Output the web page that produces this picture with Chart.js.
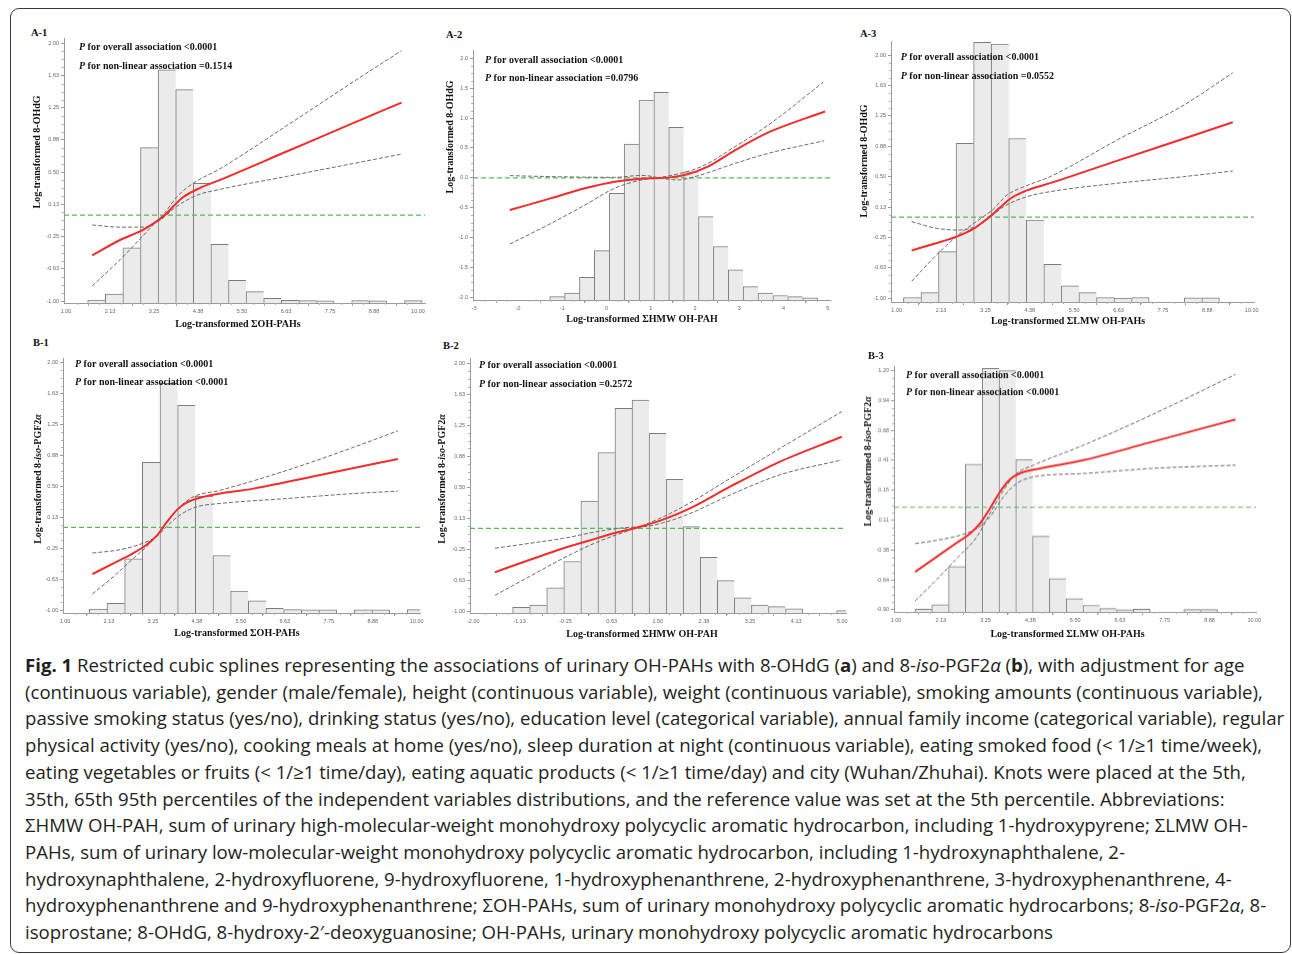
<!DOCTYPE html>
<html>
<head>
<meta charset="utf-8">
<title>Fig. 1 restricted cubic splines</title>
<script src="https://cdn.jsdelivr.net/npm/chart.js@4.4.1/dist/chart.umd.min.js"></script>
<style>
  html, body { margin: 0; padding: 0; background: #fff; }
  body { position: relative; width: 1292px; height: 954px; overflow: hidden; }
  #frame { position: absolute; left: 10px; top: 8px; width: 1281px; height: 945px; box-sizing: border-box;
           border: 1.4px solid #3a3a3a; border-radius: 9px; }
  canvas { position: absolute; }
  .tag { position: absolute; font: bold 10.5px "Liberation Serif", serif; color: #111; line-height: 12px; }
  #caption { position: absolute; left: 25px; top: 652px; font-family: "Open Sans", sans-serif; font-size: 18.6px;
             line-height: 26.7px; color: #231f20; white-space: nowrap; }
</style>
</head>
<body>
<div id="frame"></div>
<div id="caption">
<b>Fig. 1</b> Restricted cubic splines representing the associations of urinary OH-PAHs with 8-OHdG (<b>a</b>) and 8-<i>iso</i>-PGF2<i>α</i> (<b>b</b>), with adjustment for age<br>
(continuous variable), gender (male/female), height (continuous variable), weight (continuous variable), smoking amounts (continuous variable),<br>
passive smoking status (yes/no), drinking status (yes/no), education level (categorical variable), annual family income (categorical variable), regular<br>
physical activity (yes/no), cooking meals at home (yes/no), sleep duration at night (continuous variable), eating smoked food (&lt; 1/≥1 time/week),<br>
eating vegetables or fruits (&lt; 1/≥1 time/day), eating aquatic products (&lt; 1/≥1 time/day) and city (Wuhan/Zhuhai). Knots were placed at the 5th,<br>
35th, 65th 95th percentiles of the independent variables distributions, and the reference value was set at the 5th percentile. Abbreviations:<br>
ΣHMW OH-PAH, sum of urinary high-molecular-weight monohydroxy polycyclic aromatic hydrocarbon, including 1-hydroxypyrene; ΣLMW OH-<br>
PAHs, sum of urinary low-molecular-weight monohydroxy polycyclic aromatic hydrocarbon, including 1-hydroxynaphthalene, 2-<br>
hydroxynaphthalene, 2-hydroxyfluorene, 9-hydroxyfluorene, 1-hydroxyphenanthrene, 2-hydroxyphenanthrene, 3-hydroxyphenanthrene, 4-<br>
hydroxyphenanthrene and 9-hydroxyphenanthrene; ΣOH-PAHs, sum of urinary monohydroxy polycyclic aromatic hydrocarbons; 8-<i>iso</i>-PGF2<i>α</i>, 8-<br>
isoprostane; 8-OHdG, 8-hydroxy-2′-deoxyguanosine; OH-PAHs, urinary monohydroxy polycyclic aromatic hydrocarbons
</div>
<script>
// ---- axis ticks (values and the labels printed in the figure) ----
const sumTicks = [1, 2.125, 3.25, 4.375, 5.5, 6.625, 7.75, 8.875, 10];
const sumTickLabels = ['1.00', '2.13', '3.25', '4.38', '5.50', '6.63', '7.75', '8.88', '10.00'];
const hmwTicksA = [-3, -2, -1, 0, 1, 2, 3, 4, 5];
const hmwTickLabelsA = ['-3', '-2', '-1', '0', '1', '2', '3', '4', '5'];
const hmwTicksB = [-2, -1.125, -0.25, 0.625, 1.5, 2.375, 3.25, 4.125, 5];
const hmwTickLabelsB = ['-2.00', '-1.13', '-0.25', '0.63', '1.50', '2.38', '3.25', '4.13', '5.00'];
const respTicks = [-1, -0.625, -0.25, 0.125, 0.5, 0.875, 1.25, 1.625, 2];
const respTickLabels = ['-1.00', '-0.63', '-0.25', '0.13', '0.50', '0.88', '1.25', '1.63', '2.00'];
const a2YTicks = [-2, -1.5, -1, -0.5, 0, 0.5, 1, 1.5, 2];
const a2YTickLabels = ['-2.0', '-1.5', '-1.0', '-0.5', '0.0', '0.5', '1.0', '1.5', '2.0'];
const b3YTicks = [-0.9, -0.6375, -0.375, -0.1125, 0.15, 0.4125, 0.675, 0.9375, 1.2];
const b3YTickLabels = ['-0.90', '-0.64', '-0.38', '0.11', '0.15', '0.41', '0.68', '0.94', '1.20'];

// reference line of every panel
const refY = 0;

// ---- A-1: ΣOH-PAHs vs 8-OHdG ----
const a1BinX = [1.78, 2.23, 2.68, 3.13, 3.58, 4.03, 4.48, 4.93, 5.38, 5.83, 6.28, 6.73, 7.18, 7.63, 8.08, 8.53, 8.98, 9.43, 9.88];
const a1BinTop = [-0.99, -0.92, -0.38, 0.785, 1.69, 1.46, 0.37, -0.34, -0.76, -0.89, -0.97, -0.993, -0.996, -0.998, null, -0.996, -0.997, null, -0.996];
const a1Fit = [[1.67, -0.47], [2.38, -0.29], [2.98, -0.17], [3.23, -0.10], [3.53, 0.00], [3.74, 0.10], [4.00, 0.21], [4.42, 0.315], [4.94, 0.41], [6.64, 0.74], [8.34, 1.07], [9.58, 1.31]];
const a1CiHi = [[1.67, -0.825], [2.38, -0.52], [3.23, -0.115], [3.53, 0.03], [3.83, 0.21], [4.25, 0.37], [4.94, 0.54], [6.64, 1.04], [8.34, 1.55], [9.58, 1.915]];
const a1CiLo = [[1.67, -0.115], [2.38, -0.14], [2.98, -0.14], [3.40, -0.06], [3.57, 0.00], [3.83, 0.10], [4.34, 0.23], [4.94, 0.30], [6.64, 0.45], [8.34, 0.60], [9.58, 0.71]];

// ---- A-2: ΣHMW OH-PAH vs 8-OHdG ----
const a2BinX = [-1.119, -0.783, -0.446, -0.110, 0.227, 0.564, 0.900, 1.237, 1.573, 1.910, 2.246, 2.583, 2.919, 3.256, 3.592, 3.929, 4.265, 4.602];
const a2BinTop = [-1.99, -1.93, -1.665, -1.22, -0.26, 0.566, 1.30, 1.43, 0.845, 0.10, -0.65, -1.15, -1.54, -1.82, -1.93, -1.97, -1.99, -2.01];
const a2Fit = [[-2.19, -0.54], [-1.25, -0.34], [-0.49, -0.175], [0.18, -0.065], [0.79, -0.014], [1.39, 0.003], [1.85, 0.065], [2.30, 0.19], [2.90, 0.46], [3.66, 0.76], [4.94, 1.11]];
const a2CiHi = [[-2.19, -1.11], [-1.25, -0.76], [-0.49, -0.455], [0.18, -0.175], [0.79, -0.036], [1.39, 0.03], [2.15, 0.19], [2.90, 0.52], [3.66, 0.885], [4.90, 1.60]];
const a2CiLo = [[-2.19, 0.036], [-1.25, 0.02], [0.18, 0.008], [0.79, 0.04], [1.39, -0.025], [1.62, -0.036], [2.0, 0.02], [2.90, 0.24], [3.66, 0.41], [4.92, 0.62]];

// ---- A-3: ΣLMW OH-PAHs vs 8-OHdG ----
const a3BinX = [1.393, 1.838, 2.283, 2.728, 3.173, 3.618, 4.063, 4.508, 4.953, 5.398, 5.843, 6.288, 6.733, 7.178, 7.623, 8.068, 8.513, 8.958, 9.403];
const a3BinTop = [-0.99, -0.93, -0.425, 0.91, 2.156, 2.136, 0.97, -0.035, -0.58, -0.845, -0.93, -0.99, -0.997, -0.99, null, null, -0.995, -0.995, null];
const a3Fit = [[1.38, -0.41], [1.93, -0.33], [2.52, -0.24], [2.94, -0.145], [3.20, -0.055], [3.41, 0.027], [3.62, 0.12], [3.87, 0.225], [4.30, 0.33], [4.89, 0.42], [6.58, 0.695], [8.27, 0.968], [9.52, 1.17]];
const a3CiHi = [[1.38, -0.79], [2.01, -0.465], [2.61, -0.20], [3.20, 0.007], [3.45, 0.10], [3.79, 0.27], [4.30, 0.39], [4.89, 0.50], [6.58, 0.95], [8.27, 1.38], [9.52, 1.78]];
const a3CiLo = [[1.38, -0.055], [2.01, -0.137], [2.61, -0.158], [3.03, -0.108], [3.37, 0.0], [3.71, 0.13], [4.30, 0.253], [4.89, 0.315], [6.58, 0.418], [8.27, 0.50], [9.52, 0.57]];

// ---- B-1: ΣOH-PAHs vs 8-iso-PGF2α ----
const b1BinX = [1.849, 2.301, 2.753, 3.205, 3.657, 4.109, 4.561, 5.013, 5.465, 5.917, 6.369, 6.821, 7.273, 7.725, 8.177, 8.629, 9.081, 9.533, 9.985];
const b1BinTop = [-0.99, -0.92, -0.38, 0.79, 1.745, 1.48, 0.38, -0.34, -0.77, -0.89, -0.98, -0.995, -0.997, -0.998, null, -0.997, -0.997, null, -0.995];
const b1Fit = [[1.70, -0.565], [2.24, -0.435], [2.75, -0.31], [3.09, -0.21], [3.35, -0.10], [3.60, 0.06], [3.86, 0.21], [4.11, 0.30], [4.54, 0.37], [5.82, 0.47], [7.53, 0.635], [9.52, 0.83]];
const b1CiHi = [[1.70, -0.806], [2.24, -0.596], [2.75, -0.374], [3.18, -0.19], [3.60, 0.06], [3.94, 0.25], [4.28, 0.37], [4.97, 0.45], [6.67, 0.69], [8.38, 0.97], [9.52, 1.17]];
const b1CiLo = [[1.70, -0.31], [2.41, -0.27], [3.0, -0.19], [3.35, -0.11], [3.60, 0.01], [3.94, 0.15], [4.37, 0.25], [4.97, 0.29], [6.67, 0.35], [8.38, 0.41], [9.52, 0.44]];

// ---- B-2: ΣHMW OH-PAH vs 8-iso-PGF2α ----
const b2BinX = [-1.092, -0.769, -0.445, -0.122, 0.202, 0.526, 0.849, 1.173, 1.496, 1.820, 2.143, 2.467, 2.791, 3.114, 3.438, 3.761, 4.085, 4.408, 4.732, 5.055];
const b2BinTop = [-0.955, -0.927, -0.72, -0.40, 0.33, 0.92, 1.455, 1.556, 1.152, 0.595, 0.022, -0.35, -0.632, -0.84, -0.927, -0.947, -0.975, null, null, -0.995];
const b2Fit = [[-1.59, -0.53], [-0.925, -0.38], [-0.29, -0.24], [0.34, -0.12], [0.72, -0.05], [1.16, 0.02], [1.61, 0.11], [2.11, 0.244], [2.87, 0.506], [3.82, 0.81], [4.99, 1.11]];
const b2CiHi = [[-1.59, -0.81], [-0.925, -0.58], [-0.29, -0.36], [0.34, -0.168], [0.97, -0.02], [1.23, 0.04], [1.61, 0.143], [2.11, 0.31], [2.87, 0.605], [3.82, 0.97], [4.99, 1.415]];
const b2CiLo = [[-1.59, -0.24], [-0.925, -0.18], [-0.29, -0.12], [0.34, -0.04], [0.97, 0.014], [1.23, 0.02], [1.61, 0.07], [2.11, 0.18], [2.87, 0.405], [3.82, 0.65], [4.99, 0.83]];

// ---- B-3: ΣLMW OH-PAHs vs 8-iso-PGF2α ----
const b3BinX = [1.688, 2.110, 2.532, 2.954, 3.376, 3.798, 4.220, 4.642, 5.064, 5.486, 5.908, 6.330, 6.752, 7.174, 7.596, 8.018, 8.440, 8.862, 9.284];
const b3BinTop = [-0.895, -0.856, -0.52, 0.379, 1.22, 1.20, 0.42, -0.255, -0.627, -0.803, -0.862, -0.89, -0.9, -0.895, null, null, -0.898, -0.898, null];
const b3Fit = [[1.48, -0.568], [2.02, -0.436], [2.52, -0.313], [2.86, -0.231], [3.11, -0.143], [3.36, -0.011], [3.61, 0.135], [3.86, 0.245], [4.12, 0.30], [4.45, 0.33], [5.71, 0.414], [7.38, 0.57], [9.53, 0.772]];
const b3CiHi = [[1.48, -0.823], [2.02, -0.636], [2.52, -0.451], [3.03, -0.26], [3.36, -0.055], [3.70, 0.15], [4.03, 0.297], [4.45, 0.37], [5.71, 0.546], [7.38, 0.805], [9.53, 1.168]];
const b3CiLo = [[1.48, -0.319], [2.02, -0.29], [2.61, -0.246], [3.03, -0.187], [3.36, -0.084], [3.70, 0.092], [4.03, 0.209], [4.45, 0.267], [5.71, 0.297], [7.38, 0.341], [9.53, 0.37]];

const ohdgTitle = [{ t: 'Log-transformed 8-OHdG' }];
const isoTitle = [{ t: 'Log-transformed 8-' }, { t: 'iso', i: true }, { t: '-PGF2' }, { t: 'α', i: true }];

// page layout: plot box [left, top, right, bottom], pixel of first/last tick, title centres
const panels = [
  { tag: ['A-1', 31, 33], plot: [64, 38, 425, 303], xTickPx: [66, 418], yTickPx: [301, 43.3],
    xTicks: sumTicks, xLabels: sumTickLabels, yTicks: respTicks, yLabels: respTickLabels,
    binX: a1BinX, binTop: a1BinTop, fit: a1Fit, ciHi: a1CiHi, ciLo: a1CiLo,
    xTitle: ['Log-transformed ΣOH-PAHs', 238, 324], yTitle: [ohdgTitle, 37, 152], pText: [79, 47.7, 66.7, '=0.1514'] },
  { tag: ['A-2', 446, 35], plot: [473, 50, 830, 300], xTickPx: [474, 827.7], yTickPx: [297.3, 58.3],
    xTicks: hmwTicksA, xLabels: hmwTickLabelsA, yTicks: a2YTicks, yLabels: a2YTickLabels,
    binX: a2BinX, binTop: a2BinTop, fit: a2Fit, ciHi: a2CiHi, ciLo: a2CiLo,
    xTitle: ['Log-transformed ΣHMW OH-PAH', 642, 319], yTitle: [ohdgTitle, 450, 137], pText: [485, 60.7, 78.3, '=0.0796'] },
  { tag: ['A-3', 860, 34], plot: [891, 41, 1254, 302], xTickPx: [896.7, 1251.7], yTickPx: [298.3, 55],
    xTicks: sumTicks, xLabels: sumTickLabels, yTicks: respTicks, yLabels: respTickLabels,
    binX: a3BinX, binTop: a3BinTop, fit: a3Fit, ciHi: a3CiHi, ciLo: a3CiLo,
    xTitle: ['Log-transformed ΣLMW OH-PAHs', 1068, 321.7], yTitle: [ohdgTitle, 864, 161], pText: [900.7, 57.3, 76, '=0.0552'] },
  { tag: ['B-1', 33, 343], plot: [63, 358, 420, 613], xTickPx: [65, 416.7], yTickPx: [610, 362.3],
    xTicks: sumTicks, xLabels: sumTickLabels, yTicks: respTicks, yLabels: respTickLabels,
    binX: b1BinX, binTop: b1BinTop, fit: b1Fit, ciHi: b1CiHi, ciLo: b1CiLo,
    xTitle: ['Log-transformed ΣOH-PAHs', 237, 633.3], yTitle: [isoTitle, 38, 479], pText: [75, 364, 382.7, '<0.0001'] },
  { tag: ['B-2', 443, 346], plot: [470, 358, 846, 613], xTickPx: [473.3, 842.3], yTickPx: [611, 363.3],
    xTicks: hmwTicksB, xLabels: hmwTickLabelsB, yTicks: respTicks, yLabels: respTickLabels,
    binX: b2BinX, binTop: b2BinTop, fit: b2Fit, ciHi: b2CiHi, ciLo: b2CiLo,
    xTitle: ['Log-transformed ΣHMW OH-PAH', 642, 634], yTitle: [isoTitle, 442, 479], pText: [479, 365, 384, '=0.2572'] },
  { tag: ['B-3', 868, 355.5], plot: [894, 366, 1256, 611.5], xTickPx: [896, 1254.3], yTickPx: [609.3, 370.7],
    xTicks: sumTicks, xLabels: sumTickLabels, yTicks: b3YTicks, yLabels: b3YTickLabels,
    binX: b3BinX, binTop: b3BinTop, fit: b3Fit, ciHi: b3CiHi, ciLo: b3CiLo,
    xTitle: ['Log-transformed ΣLMW OH-PAHs', 1067.5, 633.3], yTitle: [isoTitle, 868, 461], pText: [906, 375, 392.7, '<0.0001'] }
];

const SERIF = '"Liberation Serif", serif';
const AXIS_W = 40, AXIS_H = 34, PAD_T = 6, PAD_R = 16;

function runWidth(ctx, runs, size) {
  let w = 0;
  for (const r of runs) {
    ctx.font = (r.i ? 'italic ' : '') + 'bold ' + size + 'px ' + SERIF;
    w += ctx.measureText(r.t).width;
  }
  return w;
}
function drawRuns(ctx, runs, x, y, size) {
  for (const r of runs) {
    ctx.font = (r.i ? 'italic ' : '') + 'bold ' + size + 'px ' + SERIF;
    ctx.fillText(r.t, x, y);
    x += ctx.measureText(r.t).width;
  }
}

const pts = arr => arr.map(([x, y]) => ({ x, y }));

panels.forEach(p => {
  const [pl, pt, pr, pb] = p.plot;
  const left = pl - AXIS_W, top = pt - PAD_T;
  const w = pr - left + PAD_R, h = pb - top + AXIS_H;

  const tag = document.createElement('div');
  tag.className = 'tag';
  tag.textContent = p.tag[0];
  tag.style.left = p.tag[1] + 'px';
  tag.style.top = (p.tag[2] - 6) + 'px';
  document.body.appendChild(tag);

  const cv = document.createElement('canvas');
  cv.width = w; cv.height = h;
  cv.style.left = left + 'px'; cv.style.top = top + 'px';
  cv.style.width = w + 'px'; cv.style.height = h + 'px';
  document.body.appendChild(cv);

  // axis limits so the first/last ticks land where they sit in the figure
  const xs = p.xTicks, ys = p.yTicks;
  const xPer = (p.xTickPx[1] - p.xTickPx[0]) / (xs[xs.length - 1] - xs[0]);
  const xMin = xs[0] - (p.xTickPx[0] - pl) / xPer;
  const xMax = xs[xs.length - 1] + (pr - p.xTickPx[1]) / xPer;
  const yPer = (p.yTickPx[0] - p.yTickPx[1]) / (ys[ys.length - 1] - ys[0]);
  const yMin = ys[0] - (pb - p.yTickPx[0]) / yPer;
  const yMax = ys[ys.length - 1] + (p.yTickPx[1] - pt) / yPer;

  const bars = [];
  p.binX.forEach((x, i) => {
    if (p.binTop[i] == null) return;
    bars.push({ x, y: [yMin, p.binTop[i]], last: p.binTop[i + 1] == null });
  });

  const texts = {
    id: 'texts',
    afterDatasetsDraw(chart) {
      const c = chart.ctx;
      c.save();
      c.fillStyle = '#111';
      c.textBaseline = 'middle';
      c.textAlign = 'left';
      const [tx, y1, y2, pNl] = p.pText;
      drawRuns(c, [{ t: 'P', i: true }, { t: ' for overall association <0.0001' }], tx - left, y1 - top, 10);
      drawRuns(c, [{ t: 'P', i: true }, { t: ' for non-linear association ' + pNl }], tx - left, y2 - top, 10);
      // x title
      const [xt, xx, xy] = p.xTitle;
      const xw = runWidth(c, [{ t: xt }], 10);
      drawRuns(c, [{ t: xt }], xx - left - xw / 2, xy - top, 10);
      // y title, rotated
      const [yr, yx, yy] = p.yTitle;
      const yw = runWidth(c, yr, 10);
      c.translate(yx - left, yy - top);
      c.rotate(-Math.PI / 2);
      drawRuns(c, yr, -yw / 2, 0, 10);
      c.restore();
    },
    // small minor ticks between the labelled ones, as in the SAS output
    afterDraw(chart) {
      const c = chart.ctx, sx = chart.scales.x, sy = chart.scales.y, a = chart.chartArea;
      c.save();
      c.strokeStyle = '#b0b0b0';
      c.lineWidth = 1;
      c.beginPath();
      for (let i = 0; i < xs.length - 1; i++) {
        for (let k = 1; k < 4; k++) {
          const px = Math.round(sx.getPixelForValue(xs[i] + (xs[i + 1] - xs[i]) * k / 4)) + 0.5;
          c.moveTo(px, a.bottom); c.lineTo(px, a.bottom + 2);
        }
      }
      for (let i = 0; i < ys.length - 1; i++) {
        for (let k = 1; k < 4; k++) {
          const py = Math.round(sy.getPixelForValue(ys[i] + (ys[i + 1] - ys[i]) * k / 4)) + 0.5;
          c.moveTo(a.left, py); c.lineTo(a.left - 2, py);
        }
      }
      c.stroke();
      c.restore();
    }
  };

  const tickFont = { family: '"Liberation Sans", sans-serif', size: 5.5 };
  new Chart(cv, {
    type: 'bar',
    data: {
      datasets: [
        { type: 'line', data: pts(p.fit), borderColor: '#f52a2a', borderWidth: 2, pointRadius: 0,
          cubicInterpolationMode: 'monotone', order: 1 },
        { type: 'line', data: pts(p.ciHi), borderColor: '#6a6a6a', borderWidth: 1, borderDash: [4, 2],
          pointRadius: 0, cubicInterpolationMode: 'monotone', order: 2 },
        { type: 'line', data: pts(p.ciLo), borderColor: '#6a6a6a', borderWidth: 1, borderDash: [4, 2],
          pointRadius: 0, cubicInterpolationMode: 'monotone', order: 2 },
        { type: 'line', data: [{ x: xMin, y: refY }, { x: xMax, y: refY }], borderColor: '#59b959',
          borderWidth: 1.2, borderDash: [5, 3], pointRadius: 0, order: 3 },
        { type: 'bar', data: bars, backgroundColor: '#ebebeb', borderColor: '#7c7c7c',
          borderWidth: ctx => ({ top: 1, left: 1, bottom: 0, right: ctx.raw && ctx.raw.last ? 1 : 0 }),
          borderSkipped: false, barPercentage: 1, categoryPercentage: 1, order: 4 }
      ]
    },
    options: {
      responsive: false, animation: false, devicePixelRatio: 1,
      layout: { padding: { top: PAD_T, right: PAD_R, left: 0, bottom: 0 } },
      plugins: { legend: { display: false }, tooltip: { enabled: false } },
      scales: {
        x: {
          type: 'linear', min: xMin, max: xMax, offset: false,
          afterBuildTicks: s => { s.ticks = xs.map(v => ({ value: v })); },
          afterFit: s => { s.height = AXIS_H; },
          ticks: { autoSkip: false, maxRotation: 0, padding: 2, color: '#666', font: tickFont,
                   callback: (v, i) => p.xLabels[i] },
          grid: { drawOnChartArea: false, tickLength: 3, color: '#9a9a9a' },
          border: { color: '#9a9a9a' }
        },
        y: {
          type: 'linear', min: yMin, max: yMax,
          afterBuildTicks: s => { s.ticks = ys.map(v => ({ value: v })); },
          afterFit: s => { s.width = AXIS_W; },
          ticks: { autoSkip: false, padding: 2, color: '#666', font: tickFont,
                   callback: (v, i) => p.yLabels[i] },
          grid: { drawOnChartArea: false, tickLength: 3, color: '#9a9a9a' },
          border: { color: '#9a9a9a' }
        }
      }
    },
    plugins: [texts]
  });
});
</script>
</body>
</html>
